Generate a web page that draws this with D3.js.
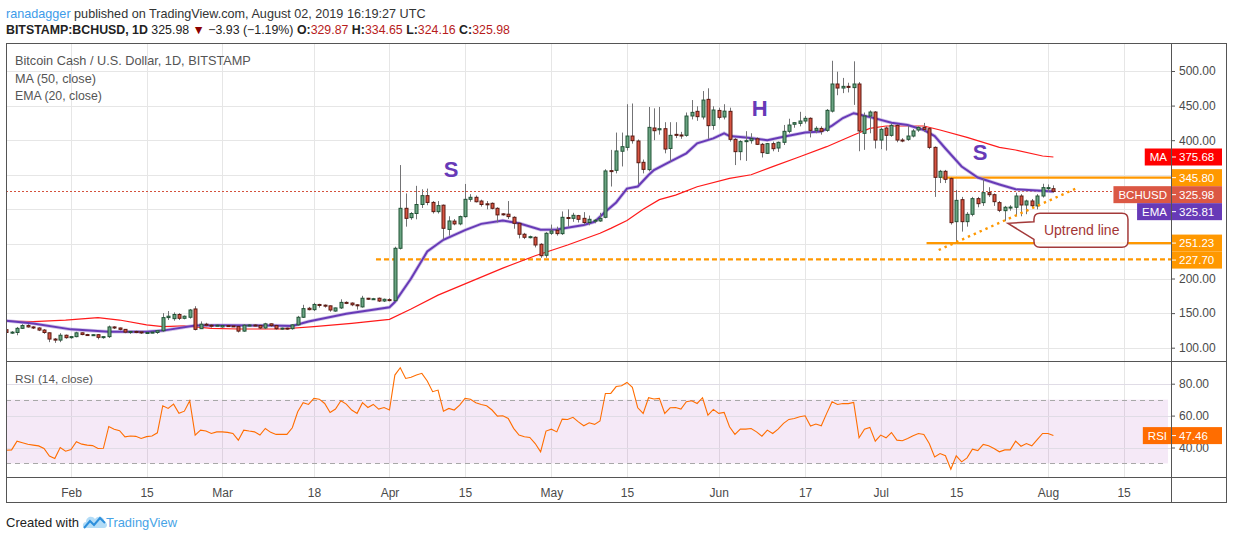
<!DOCTYPE html>
<html>
<head>
<meta charset="utf-8">
<script src="https://cdn.jsdelivr.net/npm/d3@7"></script>
<style>
  html, body { margin: 0; padding: 0; background: #fff; }
  svg { display: block; font-family: "Liberation Sans", Arial, sans-serif; }
</style>
</head>
<body>
<svg id="chart" width="1234" height="540"></svg>
<script>
// daily candles, Jan 20 2019 .. Aug 02 2019 (BITSTAMP:BCHUSD)
const startDay = "2019-01-20";

const open = [
  126,122,122,128,132,130,128.5,125.5,121.5,112.5,111,118,
  114.5,116,121.5,119,118.5,118.8,115,116,130,128.5,126.5,122.5,123.5,122.8,121.5,122,122,124.5,143.5,142,148,142.5,144,156,127.5,134,132.5,132,
  130,132,131.5,130.8,124,132.5,132.8,132.2,128.5,134.5,132,127.5,128.3,127.5,133,144,157,155,162.5,161.5,160.5,153,157.5,165.5,164.5,162,159,171.5,170.5,171.5,167.5,
  169.5,168,243.7,301.5,288,294,307,319.8,310,296.7,306,271,283,279,289.5,314.5,317.4,312,308,308.7,301.5,293.5,293,288.5,279.8,264,259.6,259.6,249.5,233.6,
  265.4,269.7,264.9,288.2,287,290.9,287,281,284,283.2,288.5,356,356.4,384,389.6,406,398.8,368,357.4,417.6,415,416.6,388,408.4,407.5,407,435,441.7,433.5,459,421.4,
  443,433.5,441.7,401.2,383.4,397.9,399.3,402,394,381,395,388.7,396.9,412.8,423,424.3,427.7,431.6,414.2,417,414.2,442,481.2,475.4,477.8,476,481.2,409.9,434.9,440.7,
  400.2,417.6,407,421.4,400.2,401.2,406,414.7,418.5,416.6,389.6,346.3,355,344.4,282.2,314,282.2,292.8,315.5,309.7,324.1,321.2,309.7,298.1,303,303,319.3,306.3,312.1,305,319.3,
  329.9,329.87
];
const high = [
  128,124,130,134,134,131,129.5,127,122,114,121,119,
  117,123,122,120,119.5,119.5,116.5,132,131,129,127,124,124.5,124,123,123.5,125,150,153,151,150,146.5,156,160,138,136,134,133.5,
  133,133,132,131.5,134,134,134,133,136,135,133,129,129,134,146,162,159,165,163.5,162.5,161,158,170,167,165.5,163,175,172,172,172.5,171,
  171.5,246,364,323,296,334,329,330,312,312,307,290,286,291,336.7,322,320,314,312,310,303,294.5,312,290,281,266,262,261,251,267,
  278,275,297,300,295,292,296,291,286,295,358,386,411,411,452,453,401,372,448,446,448,426,426,426,412,440,458,449,471,475,449,
  447,452,447,403,400,413,410,404,396,396,398,398,422,431,426,441,435,433,420,420,445,514.8,499,490,483,514,484,440,443,442,
  418,420,424,423,403,421,416,420,425,418,391,357,357,346,328,318,296,318,318,345,332,323,312,305,306,324,322,314,315,322,337,
  336,334.65
];
const low = [
  121,120,118,127,129,127,124,120,108,107,108,113,
  113,115,118,117,117,112,113,114,127,125,121,120,121,120,121,121,120,123,140,139,140,141,142,125,127,131,129,131,
  129,130,130,122,123,131,131,127,127,130,126,126,126,126,132,143,154,153,158,158,152,152,156,163,160,155,158,169,169,166,166,
  167,167,242,275,285,285.6,302,306,294,294,256.7,262,277,277,288,311,310,304,300,300,281,291,286,272,258,257,258,245,230,230,
  263,262,263,275,282,281,278,277,280,282,287,333,352,362,385,395,336.6,352,355,400,408,381,369,403,402,405,430,428,430,402,415,
  430,430,398,364,371,370,395,393,375,380,384,383,393,410,418,420,424,404,410,408,412,440,465,468,469,451,384,386,410,388,
  387,385,405,397,397,399,404,412,412,387,318,338,338,278,252,267.8,275,290,303,305,318,305,296,283,298,290,290,293,303,300,317,
  325,324.16
];
const close = [
  122,122.5,128,132,130,128.5,125.5,122,112.5,111,118,114.5,
  116,121.5,119,118.5,118.8,115,116,130,128.5,126.5,122.5,123.5,122.8,121.5,122,122.5,124.5,143.5,145.5,148,142.5,145.5,154.5,126.5,134,132.5,132,132.5,
  132,131.5,130.8,124,132.5,132.8,132.2,128.5,134.5,132,127.5,128.3,127.5,133,144,156.5,155,162.5,161.5,160.5,154.5,157.5,165.5,165,162,161,171.5,170.5,170.8,167.5,170,
  169,243.7,301.5,287,294,307,319.8,310,296.7,305.4,272.6,283.2,279,289.5,314.5,317.4,311,307,307.4,301.5,292,293,289.5,279.8,264,259.6,260.5,248.5,233,265.4,
  268.7,264.9,288.5,288,291.4,285.6,281,285.6,284.3,287,355.5,355.8,384.4,390.6,406,399.3,367.4,357.8,418.5,413.7,416.6,387.2,407,407,406.8,434.9,440.2,434,458,421,443.6,
  433,442,401.2,383.4,397.9,399.3,402.2,394,382,395,387.7,396.9,412.8,421.9,425.3,427.7,431.6,414.2,417.1,412.8,443.1,481.2,475.4,477.8,477.5,481.2,413.3,434.9,440.7,400.2,
  415.7,407,421.4,400.2,399.5,406,413.3,418.5,415.7,389.6,346.3,355,343.4,280.8,313,282.2,292.8,315.5,308.2,324.1,321.2,311.1,298.6,303,303.3,319.3,306.3,312.1,305.3,319.3,331.4,
  331.4,325.98
];
const rsi = [
  38.3,38.5,44,43,42,41.5,41,39.4,34.6,33.1,40,37.7,
  38.7,43.6,42.1,41.5,41.2,39.4,39.5,53.2,51.5,50.5,46.7,47.2,47,45.7,46.8,47.2,49.2,66.2,64.5,67.2,61.4,62.8,69.3,47.8,50.9,50.3,48.8,49.8,
  49.8,49.5,48.8,44.6,50.9,50.3,49.8,47.8,51.9,49.5,48.2,48.2,48.2,52.4,62.4,68.1,67,70.8,70.3,67.6,62,64.1,69.3,67.2,63.5,61.4,68.1,65.1,67,64.1,65.1,
  63.5,85.4,90,83.3,84,85.5,86.5,81.7,75,76,62.8,64.5,63.5,66.6,70.8,70.2,68.1,67,66.2,63.5,59.7,59.9,58.2,52,47.8,46.7,46.3,42.5,37.3,50.3,
  51.5,49.8,57.8,57.6,58.9,56.1,53.6,55.5,54.5,56.6,73.9,73.9,78.2,78.7,80.8,77.7,64.9,61.4,71.2,70.4,70.8,61.4,64.9,65.1,64.1,68.7,69.3,67.6,71.2,60.3,63.9,
  61.4,62,53,48.2,51.5,51.5,51.9,49.8,47.1,50.9,48.8,51.5,55.1,57.6,58.2,59.3,59.9,53.4,54.7,53.6,61.4,68.7,67,67.6,67.5,68.3,46.1,51.5,52.6,44,
  47.8,46.1,49.4,44.6,44.2,45.7,47.3,48.8,48.2,42.5,34.1,36.2,34.8,26.4,34.8,31,33.5,39,38.1,41.9,41.1,39.4,37.3,38.5,38.5,44,40.8,42.5,41.1,45,48.8,
  48.8,47.46
];

// MA (50) and EMA (20)
const maDates = ["2019-01-20","2019-01-25","2019-01-31","2019-02-06","2019-02-10","2019-02-15","2019-02-18","2019-02-22","2019-02-27","2019-03-04","2019-03-12","2019-03-18","2019-03-25","2019-04-01","2019-04-05","2019-04-10","2019-04-16","2019-04-22","2019-04-28","2019-05-04","2019-05-10","2019-05-12","2019-05-15","2019-05-18","2019-05-21","2019-05-24","2019-05-28","2019-06-03","2019-06-07","2019-06-11","2019-06-16","2019-06-21","2019-06-26","2019-06-29","2019-07-02","2019-07-05","2019-07-09","2019-07-12","2019-07-17","2019-07-23","2019-07-26","2019-07-31","2019-08-02"];
const maValues = [138.5,137.7,140,143.5,140,133,130.5,131.5,128,127,127,130.5,135.3,141,156,176,195.5,215,233,248.5,265.4,272.5,284,300,314,320.5,332.7,344.8,350,361.7,376,390.6,407.5,417,420.5,420.5,420.5,414.7,404,389.6,385.8,377.1,375.68];
const emaDates = ["2019-01-20","2019-01-25","2019-02-01","2019-02-08","2019-02-15","2019-02-18","2019-02-24","2019-03-01","2019-03-10","2019-03-14","2019-03-17","2019-03-24","2019-04-01","2019-04-02","2019-04-05","2019-04-08","2019-04-11","2019-04-15","2019-04-18","2019-04-22","2019-04-25","2019-04-29","2019-05-02","2019-05-07","2019-05-09","2019-05-11","2019-05-13","2019-05-15","2019-05-17","2019-05-19","2019-05-20","2019-05-23","2019-05-26","2019-05-28","2019-05-31","2019-06-02","2019-06-03","2019-06-06","2019-06-10","2019-06-13","2019-06-17","2019-06-20","2019-06-22","2019-06-24","2019-06-26","2019-06-27","2019-06-30","2019-07-03","2019-07-06","2019-07-09","2019-07-11","2019-07-13","2019-07-16","2019-07-19","2019-07-23","2019-07-26","2019-08-02"];
const emaValues = [139,135,126.5,123,123,124.7,132,132.4,132,131.5,138,149,158.5,166,200,239,256,270,279,283.7,280,270.5,271,277.3,282,296.6,310,330,333,349.6,356.8,369,381,395.4,402.6,409.9,406,404,400,405,411,412.5,421,432,439,437,431.5,425.3,421.9,414.7,406,388,362,346,336,329,325.81];

// axis ticks
const tickDates = ["2019-02-01","2019-02-15","2019-03-01","2019-03-18","2019-04-01","2019-04-15","2019-05-01","2019-05-15","2019-06-01","2019-06-17","2019-07-01","2019-07-15","2019-08-01","2019-08-15"];
const tickLabels = ["Feb","15","Mar","18","Apr","15","May","15","Jun","17","Jul","15","Aug","15"];
const priceTicks = [500, 450, 400, 200, 150, 100];
const priceGrid = [100, 150, 200, 250, 300, 350, 400, 450, 500];
const rsiTicks = [80, 60, 40];

// drawn levels and annotations
const levelValues = [345.80, 251.23, 227.70];
const levelStarts = ["2019-07-12T10:00", "2019-07-09T12:00", "2019-03-29T12:00"];
const levelDashed = [false, false, true];
const trendDates = ["2019-07-11T18:00", "2019-08-06T10:00"];
const trendValues = [241.2, 330.9];
const patternLabels = ["S", "H", "S"];
const patternDates = ["2019-04-12T10:00", "2019-06-08T14:00", "2019-07-19T10:00"];
const patternValues = [358.3, 446.5, 382.9];
const calloutDate = "2019-07-24T14:00";
const calloutValue = 279.8;

const lastClose = 325.98, lastMA = 375.68, lastEMA = 325.81, lastRSI = 47.46;

// ---------------------------------------------------------------
const svg = d3.select("#chart");
const L = 6, R = 1171, T = 43, mainB = 361, rsiB = 477, FR = 1227, FB = 503;

const parseD = d3.utcParse("%Y-%m-%d");
const parseT = d3.utcParse("%Y-%m-%dT%H:%M");
const days = d3.utcDay.range(parseD(startDay), d3.utcDay.offset(parseD(startDay), close.length));
const bars = days.map((d, i) => ({date: d, o: open[i], h: high[i], l: low[i], c: close[i], r: rsi[i]}));

const x = d3.scaleUtc().domain([parseD("2019-02-01"), parseD("2019-08-01")]).range([71, 1048]);
const y = d3.scaleLinear().domain([100, 500]).range([347.7, 71]);
const yr = d3.scaleLinear().domain([40, 80]).range([447.5, 383.7]);

// scale a text's font so it spans the wanted width
function fitWidth(sel, target) {
  const w = sel.node().getComputedTextLength();
  const fs = +sel.attr("font-size");
  if (w > 0) sel.attr("font-size", (fs * target / w).toFixed(2));
}

const defs = svg.append("defs");
defs.append("clipPath").attr("id", "clipMain")
  .append("rect").attr("x", L).attr("y", T).attr("width", R - L).attr("height", mainB - T);
defs.append("clipPath").attr("id", "clipRsi")
  .append("rect").attr("x", L).attr("y", mainB).attr("width", R - L).attr("height", rsiB - mainB);

// header
const h1 = svg.append("text").attr("x", 6).attr("y", 18).attr("font-size", 13);
h1.append("tspan").attr("fill", "#3d9be9").text("ranadagger");
h1.append("tspan").attr("fill", "#333").text(" published on TradingView.com, August 02, 2019 16:19:27 UTC");
fitWidth(h1, 420);

const h2 = svg.append("text").attr("x", 6).attr("y", 34).attr("font-size", 13).attr("fill", "#222");
h2.append("tspan").attr("font-weight", "bold").text("BITSTAMP:BCHUSD, 1D");
h2.append("tspan").text(" 325.98 ");
h2.append("tspan").attr("fill", "#8b0000").text("\u25BC");
h2.append("tspan").text(" \u22123.93 (\u22121.19%) ");
[["O:", "329.87"], [" H:", "334.65"], [" L:", "324.16"], [" C:", "325.98"]].forEach(p => {
  h2.append("tspan").attr("font-weight", "bold").text(p[0]);
  h2.append("tspan").attr("fill", "#b71c1c").text(p[1]);
});
fitWidth(h2, 504);

// grid
const grid = svg.append("g").attr("stroke", "#e6e6e6").attr("stroke-width", 1);
grid.selectAll("line.v").data(tickDates).enter().append("line")
  .attr("x1", d => Math.round(x(parseD(d))) + 0.5).attr("x2", d => Math.round(x(parseD(d))) + 0.5)
  .attr("y1", T).attr("y2", rsiB);
grid.selectAll("line.h").data(priceGrid).enter().append("line")
  .attr("x1", L).attr("x2", R)
  .attr("y1", d => Math.round(y(d)) + 0.5).attr("y2", d => Math.round(y(d)) + 0.5);

// RSI pane background band + grid
svg.append("rect").attr("x", L + 1).attr("y", yr(70)).attr("width", R - L - 4).attr("height", yr(30) - yr(70))
  .attr("fill", "#9c27b0").attr("fill-opacity", 0.1);
svg.append("g").attr("stroke", "#e0dce6").selectAll("line").data(rsiTicks).enter().append("line")
  .attr("x1", L).attr("x2", R)
  .attr("y1", d => Math.round(yr(d)) + 0.5).attr("y2", d => Math.round(yr(d)) + 0.5);
svg.append("g").attr("stroke", "#a8a8a8").attr("stroke-dasharray", "5,4").selectAll("line").data([70, 30]).enter().append("line")
  .attr("x1", L).attr("x2", R - 4)
  .attr("y1", d => Math.round(yr(d)) + 0.5).attr("y2", d => Math.round(yr(d)) + 0.5);

// main pane content
const main = svg.append("g").attr("clip-path", "url(#clipMain)");

// level 227.70 dashed, 251.23, 345.80
levelValues.forEach((v, i) => {
  main.append("line")
    .attr("x1", x(parseT(levelStarts[i]))).attr("x2", R)
    .attr("y1", y(v)).attr("y2", y(v))
    .attr("stroke", "#ff9800").attr("stroke-width", 2.2)
    .attr("stroke-dasharray", levelDashed[i] ? "5,3" : null);
});

// last price dotted line
main.append("line").attr("x1", L).attr("x2", R)
  .attr("y1", Math.round(y(lastClose)) + 0.5).attr("y2", Math.round(y(lastClose)) + 0.5)
  .attr("stroke", "#d4523d").attr("stroke-dasharray", "2,2");

// MA and EMA
const lineGen = d3.line().x(d => x(d[0])).y(d => y(d[1]));
main.append("path").datum(maDates.map((d, i) => [parseD(d), maValues[i]]))
  .attr("d", lineGen).attr("fill", "none").attr("stroke", "#ff1a1a").attr("stroke-width", 1.2);
main.append("path").datum(emaDates.map((d, i) => [parseD(d), emaValues[i]]))
  .attr("d", lineGen).attr("fill", "none").attr("stroke", "#b39ddb").attr("stroke-width", 3.6).attr("stroke-opacity", 0.6);
main.append("path").datum(emaDates.map((d, i) => [parseD(d), emaValues[i]]))
  .attr("d", lineGen).attr("fill", "none").attr("stroke", "#673ab7").attr("stroke-width", 2);

// candles
const cg = main.append("g");
cg.selectAll("line.wick").data(bars).enter().append("line")
  .attr("x1", d => Math.round(x(d.date)) + 0.5).attr("x2", d => Math.round(x(d.date)) + 0.5)
  .attr("y1", d => y(d.h)).attr("y2", d => y(d.l))
  .attr("stroke", "#737375").attr("stroke-width", 1);
cg.selectAll("rect.body").data(bars).enter().append("rect")
  .attr("x", d => Math.round(x(d.date)) - 1)
  .attr("y", d => Math.min(y(d.o), y(d.c)))
  .attr("width", 3)
  .attr("height", d => Math.max(1, Math.abs(y(d.o) - y(d.c))))
  .attr("fill", d => d.c >= d.o ? "#6ba583" : "#d75442")
  .attr("stroke", d => d.c >= d.o ? "#225437" : "#5b1a13")
  .attr("stroke-width", 1);

// uptrend dotted line
main.append("line")
  .attr("x1", x(parseT(trendDates[0]))).attr("y1", y(trendValues[0]))
  .attr("x2", x(parseT(trendDates[1]))).attr("y2", y(trendValues[1]))
  .attr("stroke", "#ff9800").attr("stroke-width", 2.4).attr("stroke-dasharray", "2.4,4");

// S H S labels
main.selectAll("text.pat").data(patternLabels).enter().append("text")
  .attr("x", (d, i) => x(parseT(patternDates[i])))
  .attr("y", (d, i) => y(patternValues[i]))
  .attr("text-anchor", "middle").attr("dominant-baseline", "central")
  .attr("font-size", 22).attr("font-weight", "bold").attr("fill", "#673ab7")
  .text(d => d);

// callout "Uptrend line"
const tx = x(parseT(calloutDate)), ty = y(calloutValue);
const bx = tx + 26, by = ty - 10, bw = 94, bh = 34, rr = 6;
const cp = d3.path();
cp.moveTo(bx + rr, by);
cp.lineTo(bx + bw - rr, by);
cp.quadraticCurveTo(bx + bw, by, bx + bw, by + rr);
cp.lineTo(bx + bw, by + bh - rr);
cp.quadraticCurveTo(bx + bw, by + bh, bx + bw - rr, by + bh);
cp.lineTo(bx + rr, by + bh);
cp.quadraticCurveTo(bx, by + bh, bx, by + bh - rr);
cp.lineTo(bx, ty + 16);
cp.lineTo(tx, ty);
cp.lineTo(bx, ty - 1.5);
cp.lineTo(bx, by + rr);
cp.quadraticCurveTo(bx, by, bx + rr, by);
cp.closePath();
svg.append("path").attr("d", cp.toString()).attr("fill", "#fff").attr("fill-opacity", 0.92)
  .attr("stroke", "#a33a3a").attr("stroke-width", 1.5);
svg.append("text").attr("x", bx + 10).attr("y", by + bh / 2 + 5)
  .attr("font-size", 14).attr("fill", "#a33535").text("Uptrend line");

// RSI line
svg.append("g").attr("clip-path", "url(#clipRsi)").append("path").datum(bars)
  .attr("d", d3.line().x(d => x(d.date)).y(d => yr(d.r)))
  .attr("fill", "none").attr("stroke", "#ff6d00").attr("stroke-width", 1.1);

// legends
const leg = svg.append("g").attr("fill", "#555");
[["Bitcoin Cash / U.S. Dollar, 1D, BITSTAMP", 65, 236], ["MA (50, close)", 83, 81],
 ["EMA (20, close)", 100, 87], ["RSI (14, close)", 383, 78]].forEach(t => {
  const el = leg.append("text").attr("x", 15).attr("y", t[1]).attr("font-size", 13).text(t[0]);
  fitWidth(el, t[2]);
});

// axes
const pax = svg.append("g").attr("transform", `translate(${R},0)`)
  .call(d3.axisRight(y).tickValues(priceTicks).tickFormat(d3.format(".2f")).tickSize(4).tickPadding(4));
const rax = svg.append("g").attr("transform", `translate(${R},0)`)
  .call(d3.axisRight(yr).tickValues(rsiTicks).tickFormat(d3.format(".2f")).tickSize(4).tickPadding(4));
const tax = svg.append("g").attr("transform", `translate(0,${rsiB})`)
  .call(d3.axisBottom(x).tickValues(tickDates.map(parseD)).tickFormat((d, i) => tickLabels[i]).tickSize(0).tickPadding(11));
[pax, rax, tax].forEach(g => {
  g.select(".domain").remove();
  g.selectAll("line").attr("stroke", "#555");
  g.selectAll("text").attr("fill", "#4a4a4a").attr("font-size", 12).attr("font-family", "Liberation Sans, Arial, sans-serif");
});

// frame
const fr = svg.append("g").attr("stroke", "#555").attr("fill", "none");
fr.append("rect").attr("x", L + 0.5).attr("y", T + 0.5).attr("width", FR - L - 1).attr("height", FB - T - 1);
fr.append("line").attr("x1", L).attr("x2", FR).attr("y1", mainB + 0.5).attr("y2", mainB + 0.5);
fr.append("line").attr("x1", L).attr("x2", FR).attr("y1", rsiB + 0.5).attr("y2", rsiB + 0.5);
fr.append("line").attr("x1", R + 0.5).attr("x2", R + 0.5).attr("y1", T).attr("y2", FB);

// right-hand value labels, stacked so they do not overlap
const labels = [
  {v: lastMA, text: "375.68", color: "#ff0000", chip: "MA"},
  {v: 345.80, text: "345.80", color: "#ff9800"},
  {v: lastClose, text: "325.98", color: "#db5844", chip: "BCHUSD"},
  {v: lastEMA, text: "325.81", color: "#673ab7", chip: "EMA"},
  {v: 251.23, text: "251.23", color: "#ff9800"},
  {v: 227.70, text: "227.70", color: "#ff9800"}
];
const LH = 17;
let prevBottom = -Infinity;
labels.forEach(lb => {
  let cy = y(lb.v);
  if (cy - LH / 2 < prevBottom) cy = prevBottom + LH / 2;
  prevBottom = cy + LH / 2;
  lb.cy = cy;
});
function drawLabel(lb, yc) {
  const g = svg.append("g");
  if (lb.chip) {
    const chipRect = g.append("rect").attr("y", yc - LH / 2).attr("height", LH).attr("fill", lb.color);
    const ct = g.append("text").attr("x", R - 4).attr("y", yc + 4.2).attr("text-anchor", "end")
      .attr("font-size", 11.5).attr("fill", "#fff").text(lb.chip);
    const cw = ct.node().getComputedTextLength() + 9;
    chipRect.attr("x", R - cw).attr("width", cw);
  }
  g.append("rect").attr("x", R + 1).attr("y", yc - LH / 2).attr("width", 50).attr("height", LH).attr("fill", lb.color);
  g.append("line").attr("x1", R + 1).attr("x2", R + 5).attr("y1", yc).attr("y2", yc).attr("stroke", "#fff");
  g.append("text").attr("x", R + 8).attr("y", yc + 4.2).attr("font-size", 11.5).attr("fill", "#fff").text(lb.text);
}
labels.forEach(lb => drawLabel(lb, lb.cy));
drawLabel({text: lastRSI.toFixed(2), color: "#ff6d00", chip: "RSI"}, yr(lastRSI));

// footer
const ft = svg.append("text").attr("x", 6).attr("y", 527).attr("font-size", 13).attr("fill", "#222").text("Created with");
fitWidth(ft, 73);
const logo = svg.append("g").attr("transform", "translate(83,514)");
logo.append("path").attr("d", "M2,14 C-1,14 -1,8 3,8 C3,3 9,1 12,5 C15,1 22,3 21,8 C25,8 25,14 21,14 Z")
  .attr("fill", "#b3dcf7");
logo.append("path").attr("d", "M1,14 L7,7 L11,11 L17,4 L22,9")
  .attr("fill", "none").attr("stroke", "#2d8fdc").attr("stroke-width", 2);
const tv = svg.append("text").attr("x", 106).attr("y", 527).attr("font-size", 13).attr("fill", "#47a3e6").text("TradingView");
fitWidth(tv, 71);
</script>
</body>
</html>
